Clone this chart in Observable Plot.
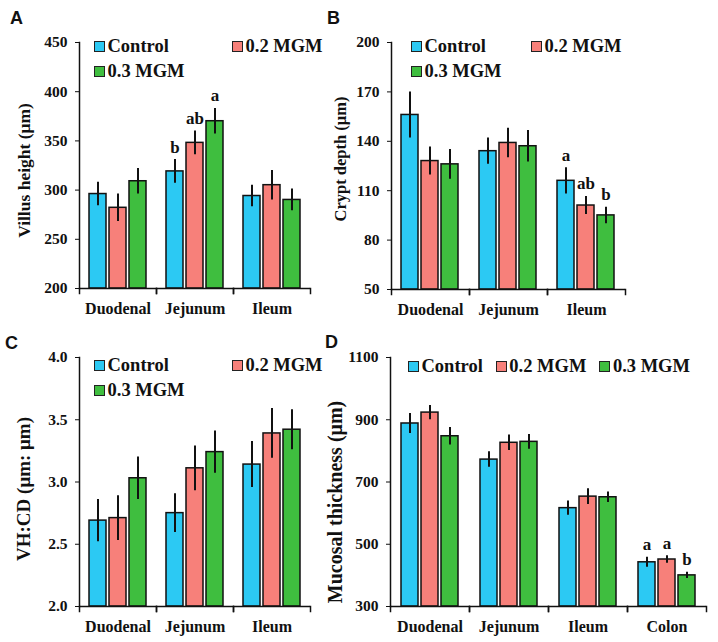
<!DOCTYPE html>
<html>
<head>
<meta charset="utf-8">
<script src="https://cdn.jsdelivr.net/npm/d3@7"></script>
<script src="https://cdn.jsdelivr.net/npm/@observablehq/plot@0.6"></script>
<style>
  html, body { margin: 0; padding: 0; background: #fff; }
  #root { position: relative; width: 718px; height: 642px; overflow: hidden; background: #fff; }
  .panel { position: absolute; }
  .letter { position: absolute; font-family: "Liberation Sans", Arial, sans-serif; font-weight: bold; font-size: 18px; line-height: 18px; color: #111; }
  .legend { position: absolute; display: grid; row-gap: 5px; font-family: "Liberation Serif", "Times New Roman", serif; font-weight: bold; font-size: 18.5px; color: #111; }
  .legend.row { display: flex; column-gap: 13px; }
  .item { display: flex; align-items: center; height: 20px; line-height: 20px; white-space: nowrap; }
  .sw { width: 11px; height: 11px; box-sizing: border-box; border: 1.7px solid #222; margin-right: 2.5px; }
</style>
</head>
<body>
<div id="root"></div>
<script>
// ---------- data ----------
const categoriesABC = ["Duodenal", "Jejunum", "Ileum"];
const categoriesD = ["Duodenal", "Jejunum", "Ileum", "Colon"];
const series = ["Control", "0.2 MGM", "0.3 MGM"];
const colors = ["#2cc9f3", "#f7807a", "#3fbe3f"];

// A: Villus height (µm)
const villusControl = [296, 319, 294];
const villus02 = [282, 348, 305];
const villus03 = [309, 370, 290];
const villusControlErr = [12, 12, 11];
const villus02Err = [14, 12, 15];
const villus03Err = [13, 13, 11];
const villusLetters = [["", "b", ""], ["", "ab", ""], ["", "a", ""]];
const villusTicks = [200, 250, 300, 350, 400, 450];

// B: Crypt depth (µm)
const cryptControl = [156, 134, 116];
const crypt02 = [128, 139, 101];
const crypt03 = [126, 137, 95];
const cryptControlErr = [14, 8, 8];
const crypt02Err = [8.5, 9, 5.5];
const crypt03Err = [9, 9.5, 5];
const cryptLetters = [["", "", "a"], ["", "", "ab"], ["", "", "b"]];
const cryptTicks = [50, 80, 110, 140, 170, 200];

// C: VH:CD
const vhcdControl = [2.69, 2.75, 3.14];
const vhcd02 = [2.71, 3.11, 3.39];
const vhcd03 = [3.03, 3.24, 3.42];
const vhcdControlErr = [0.17, 0.155, 0.185];
const vhcd02Err = [0.18, 0.18, 0.2];
const vhcd03Err = [0.17, 0.17, 0.16];
const vhcdTicks = [2.0, 2.5, 3.0, 3.5, 4.0];

// D: Mucosal thickness (µm)
const mucosalControl = [888, 772, 616, 442];
const mucosal02 = [923, 826, 653, 451];
const mucosal03 = [847, 829, 651, 400];
const mucosalControlErr = [32, 25, 23, 16];
const mucosal02Err = [23, 25, 25, 12];
const mucosal03Err = [28, 24, 17, 10];
const mucosalLetters = [["", "", "", "a"], ["", "", "", "a"], ["", "", "", "b"]];
const mucosalTicks = [300, 500, 700, 900, 1100];

// ---------- drawing ----------
const root = document.getElementById("root");
const ink = "#111";

function makePanel(cfg) {
  const {cats, means, errs, letters, ticks, fmt, label, title, left, top, width, height, m} = cfg;
  const rows = [];
  series.forEach((s, si) => cats.forEach((c, ci) => rows.push({
    cat: c, series: s, mean: means[si][ci], err: errs[si][ci], letter: letters ? letters[si][ci] : ""
  })));
  const y0 = ticks[0], y1 = ticks[ticks.length - 1];
  const plotH = height - m.top - m.bottom;
  const svg = Plot.plot({
    width, height,
    marginLeft: m.left, marginRight: m.right, marginTop: m.top, marginBottom: m.bottom,
    style: {fontFamily: "'Liberation Serif', 'Times New Roman', serif", fontWeight: "bold", fontSize: "15px", color: ink, background: "transparent", overflow: "visible"},
    fx: {domain: cats, padding: 0, label: null},
    x: {domain: series, paddingInner: 0.13, paddingOuter: 0.45, axis: null},
    y: {domain: [y0, y1], label: null},
    color: {domain: series, range: colors},
    marks: [
      Plot.barY(rows, {fx: "cat", x: "series", y1: y0, y2: "mean", fill: "series", stroke: ink, strokeWidth: 1.5}),
      Plot.ruleX(rows, {fx: "cat", x: "series", y1: d => d.mean - d.err, y2: d => d.mean + d.err, stroke: ink, strokeWidth: 2}),
      Plot.text(rows.filter(d => d.letter), {fx: "cat", x: "series", y: d => d.mean + d.err, text: "letter", lineAnchor: "bottom", dy: -7, fontSize: 17, fill: ink}),
      Plot.ruleY([y0], {stroke: ink, strokeWidth: 1.5}),
      Plot.frame({anchor: "left", facet: "super", stroke: ink, strokeWidth: 1.5}),
      Plot.frame({anchor: "left", insetTop: plotH, insetBottom: -5, stroke: ink, strokeWidth: 1.5}),
      Plot.frame({anchor: "right", insetTop: plotH, insetBottom: -5, stroke: ink, strokeWidth: 1.5}),
      Plot.axisY({ticks, tickSize: 4, tickPadding: 8, tickFormat: fmt, label: null, fontSize: 15.5, stroke: ink}),
      Plot.axisFx({anchor: "bottom", tickSize: 0, tickPadding: 14, label: null, fontSize: 16}),
      Plot.text([label], {facet: "super", frameAnchor: "left", rotate: -90, text: d => d, textAnchor: "middle", lineAnchor: "middle", dx: title.dx, dy: title.dy, fontSize: title.size, fill: ink})
    ]
  });
  const wrap = document.createElement("div");
  wrap.className = "panel";
  wrap.style.left = left + "px";
  wrap.style.top = top + "px";
  wrap.appendChild(svg);
  root.appendChild(wrap);
}

function addLetter(txt, x, y) {
  const d = document.createElement("div");
  d.className = "letter";
  d.textContent = txt;
  d.style.left = x + "px";
  d.style.top = y + "px";
  root.appendChild(d);
}

function addLegend(x, y, colWidth, rowMode) {
  const lg = document.createElement("div");
  lg.className = rowMode ? "legend row" : "legend";
  if (!rowMode) lg.style.gridTemplateColumns = colWidth + "px auto";
  lg.style.left = x + "px";
  lg.style.top = y + "px";
  series.forEach((s, i) => {
    const it = document.createElement("div");
    it.className = "item";
    const sw = document.createElement("span");
    sw.className = "sw";
    sw.style.background = colors[i];
    const t = document.createElement("span");
    t.textContent = s;
    it.appendChild(sw);
    it.appendChild(t);
    lg.appendChild(it);
  });
  root.appendChild(lg);
}

makePanel({
  cats: categoriesABC,
  means: [villusControl, villus02, villus03],
  errs: [villusControlErr, villus02Err, villus03Err],
  letters: villusLetters, ticks: villusTicks, fmt: d3.format("d"),
  label: "Villus height (μm)", title: {dx: -55, dy: 5, size: 17.5},
  left: 0, top: 0, width: 340, height: 320,
  m: {left: 78, right: 29, top: 42, bottom: 32}
});
makePanel({
  cats: categoriesABC,
  means: [cryptControl, crypt02, crypt03],
  errs: [cryptControlErr, crypt02Err, crypt03Err],
  letters: cryptLetters, ticks: cryptTicks, fmt: d3.format("d"),
  label: "Crypt depth (μm)", title: {dx: -51, dy: -7, size: 16.5},
  left: 318, top: 0, width: 340, height: 320,
  m: {left: 73, right: 33, top: 42, bottom: 31}
});
makePanel({
  cats: categoriesABC,
  means: [vhcdControl, vhcd02, vhcd03],
  errs: [vhcdControlErr, vhcd02Err, vhcd03Err],
  letters: null, ticks: vhcdTicks, fmt: d3.format(".1f"),
  label: "VH:CD (μm: μm)", title: {dx: -56, dy: 7, size: 19},
  left: 0, top: 320, width: 340, height: 322,
  m: {left: 78, right: 29, top: 37, bottom: 36}
});
makePanel({
  cats: categoriesD,
  means: [mucosalControl, mucosal02, mucosal03],
  errs: [mucosalControlErr, mucosal02Err, mucosal03Err],
  letters: mucosalLetters, ticks: mucosalTicks, fmt: d3.format("d"),
  label: "Mucosal thickness (μm)", title: {dx: -55, dy: 20, size: 20},
  left: 318, top: 320, width: 400, height: 322,
  m: {left: 72, right: 12, top: 37, bottom: 36}
});

addLetter("A", 10, 9);
addLetter("B", 327, 9);
addLetter("C", 5, 334);
addLetter("D", 325, 333);

addLegend(94, 36, 138, false);
addLegend(411, 36, 120, false);
addLegend(94, 355, 138, false);
addLegend(408, 356, 0, true);
</script>
</body>
</html>
